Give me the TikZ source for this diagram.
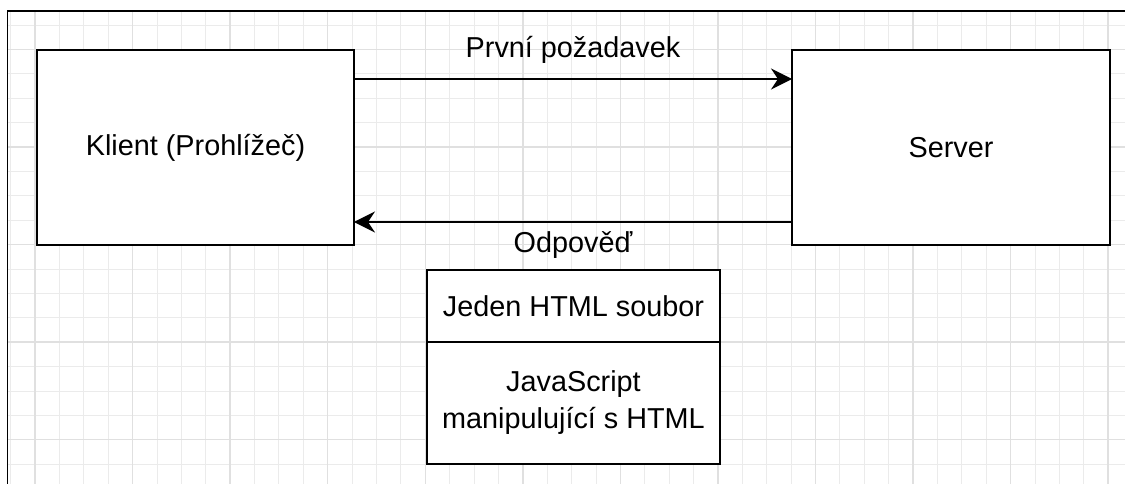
\documentclass[tikz,border=0pt]{standalone}
\usepackage{fontspec}
\setmainfont{Liberation Sans}
\usetikzlibrary{arrows.meta}
\usetikzlibrary{positioning}

\begin{document}
\begin{tikzpicture}[x=0.02cm,y=-0.02cm,>/.tip={Stealth[length=12pt,width=12pt,inset=4pt]},
	box/.style={draw,line width=1.3pt,fill=white,outer sep=0pt,align=center,font=\fontsize{16.4}{21}\selectfont},
	lbl/.style={font=\fontsize{16.4}{21}\selectfont}]
	\useasboundingbox (0,0) rectangle (1125,484);
	% grid
	\begin{scope}
	\clip (7.5,11) rectangle (1125,484);
	\foreach \i in {-1,...,45} \draw[black!8,line width=0.5pt] (35+24.39*\i,0) -- (35+24.39*\i,484);
	\foreach \j in {-2,...,18} \draw[black!8,line width=0.5pt] (0,49.5+24.39*\j) -- (1125,49.5+24.39*\j);
	\foreach \i in {-1,...,11} \draw[black!12,line width=0.8pt] (35+97.56*\i,0) -- (35+97.56*\i,484);
	\foreach \j in {0,...,4} \draw[black!12,line width=0.8pt] (0,49.5+97.56*\j) -- (1125,49.5+97.56*\j);
	\end{scope}
	\draw[line width=1.1pt] (1125,11) -- (7.5,11) -- (7.5,484);

	\node (klient) [box,minimum width=6.34cm,minimum height=3.9cm] at (195.5,147.5) {Klient (Prohlížeč)};
	\node (server) [box,minimum width=6.36cm,minimum height=3.9cm] at (951,147.5) {Server};
	\node (html) [box,minimum width=5.86cm,minimum height=1.44cm] at (573.5,306) {Jeden HTML soubor};
	\node (js) [box,minimum width=5.86cm,minimum height=2.44cm,below=0pt of html] {JavaScript\\manipulující s HTML};

	\draw[->,line width=1.1pt] ([yshift=-0.58cm]klient.north east) -- node[lbl,midway,yshift=0.58cm] {První požadavek} ([yshift=-0.58cm]server.north west);
	\draw[->,line width=1.1pt] ([yshift=0.46cm]server.south west) -- node[lbl,midway,yshift=-0.46cm] {Odpověď} ([yshift=0.46cm]klient.south east);
\end{tikzpicture}
\end{document}
